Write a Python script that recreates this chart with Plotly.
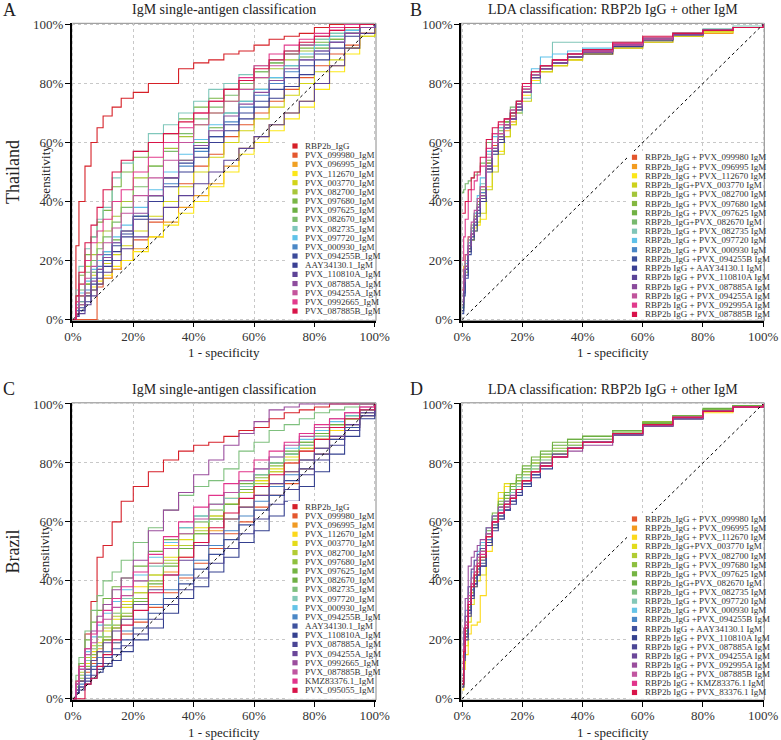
import plotly.graph_objects as go

FONT = "Liberation Serif"
W, H = 781, 740

# ---------------- shared FPR grids (percent) ----------------
GRID_SINGLE = [0, 1, 2, 4, 6, 8, 10, 13, 16, 20, 25, 30, 35, 40, 45, 50, 55, 60, 65, 70, 75, 80, 85, 90, 95, 100]
GRID_LDA = [0, 0.5, 1, 2, 3, 4, 5, 6, 8, 10, 12, 14, 16, 18, 20, 23, 26, 30, 35, 40, 50, 60, 70, 80, 90, 100]
TICKS = [0, 20, 40, 60, 80, 100]
TICK_TEXT = ["0%", "20%", "40%", "60%", "80%", "100%"]

# ---------------- Panel A: Thailand, IgM single antigen ----------------
A_NAMES = ["RBP2b_IgG", "PVX_099980_IgM", "PVX_096995_IgM", "PVX_112670_IgM", "PVX_003770_IgM",
           "PVX_082700_IgM", "PVX_097680_IgM", "PVX_097625_IgM", "PVX_082670_IgM", "PVX_082735_IgM",
           "PVX_097720_IgM", "PVX_000930_IgM", "PVX_094255B_IgM", "AAY34130.1_IgM", "PVX_110810A_IgM",
           "PVX_087885A_IgM", "PVX_094255A_IgM", "PVX_0992665_IgM", "PVX_087885B_IgM"]
A_COLORS = ["#d62027", "#e4572e", "#f0a023", "#fce719", "#d2d418", "#a8c63a", "#7ab646", "#6cb043",
            "#7dbd6d", "#80c7bb", "#5fc2e9", "#4a87c6", "#3b4a9a", "#3a3f93", "#5e4397", "#8e4d9e",
            "#c4549c", "#e23b8c", "#d81449"]
A_TPR = [
    [0, 25, 40, 52, 60, 65, 69, 72, 75, 77, 80, 80, 85, 87, 88, 90, 91, 93, 95, 96, 97, 99, 100, 100, 100, 100],
    [0, 0, 0, 0, 0, 11, 14, 17, 20, 27, 33, 40, 46, 52, 56, 62, 66, 70, 74, 78, 82, 86, 90, 93, 97, 100],
    [0, 2, 5, 8, 10, 12, 14, 17, 20, 24, 28, 33, 38, 42, 46, 52, 58, 62, 66, 70, 74, 80, 86, 92, 97, 100],
    [0, 3, 6, 9, 11, 13, 15, 18, 20, 23, 28, 32, 36, 40, 45, 50, 56, 60, 64, 68, 72, 78, 84, 90, 96, 100],
    [0, 4, 8, 12, 15, 17, 19, 22, 25, 30, 35, 40, 45, 50, 55, 60, 64, 68, 72, 76, 80, 84, 88, 92, 96, 100],
    [0, 6, 12, 18, 22, 26, 30, 35, 40, 48, 52, 58, 62, 66, 70, 74, 78, 82, 85, 88, 91, 93, 95, 97, 99, 100],
    [0, 8, 15, 22, 28, 33, 37, 45, 50, 55, 60, 63, 68, 72, 75, 78, 81, 84, 87, 90, 92, 94, 96, 98, 99, 100],
    [0, 4, 8, 12, 16, 20, 23, 27, 30, 35, 42, 48, 54, 60, 65, 70, 74, 78, 82, 86, 89, 92, 95, 97, 99, 100],
    [0, 5, 10, 16, 20, 24, 28, 33, 38, 45, 52, 57, 63, 68, 72, 76, 80, 84, 87, 90, 93, 95, 97, 98, 99, 100],
    [0, 10, 18, 24, 28, 34, 38, 48, 53, 57, 63, 66, 70, 74, 78, 80, 83, 86, 88, 91, 93, 95, 97, 98, 99, 100],
    [0, 5, 9, 13, 17, 20, 23, 28, 32, 38, 44, 50, 56, 61, 66, 70, 74, 78, 82, 86, 90, 93, 96, 98, 99, 100],
    [0, 3, 6, 10, 14, 18, 22, 26, 30, 35, 40, 46, 52, 57, 62, 67, 72, 76, 80, 84, 88, 91, 94, 97, 99, 100],
    [0, 2, 4, 8, 12, 16, 20, 25, 29, 35, 42, 48, 53, 58, 62, 66, 70, 74, 78, 82, 86, 90, 94, 97, 99, 100],
    [0, 1, 3, 6, 10, 14, 18, 23, 28, 34, 40, 45, 50, 55, 60, 64, 68, 72, 75, 79, 83, 88, 92, 96, 99, 100],
    [0, 1, 2, 5, 8, 12, 16, 20, 24, 28, 34, 38, 42, 46, 50, 54, 58, 62, 66, 70, 74, 80, 86, 92, 97, 100],
    [0, 2, 5, 9, 13, 17, 21, 26, 30, 36, 42, 48, 54, 59, 64, 69, 73, 77, 81, 85, 88, 91, 94, 97, 99, 100],
    [0, 4, 8, 14, 18, 22, 26, 31, 36, 42, 48, 54, 60, 66, 70, 74, 78, 82, 86, 90, 93, 96, 98, 99, 100, 100],
    [0, 6, 12, 20, 26, 30, 34, 40, 44, 50, 55, 60, 65, 70, 74, 78, 82, 86, 90, 93, 95, 97, 99, 100, 100, 100],
    [0, 8, 16, 26, 32, 38, 44, 50, 54, 57, 60, 63, 67, 70, 74, 78, 81, 85, 88, 91, 94, 96, 98, 99, 100, 100],
]

# ---------------- Panel B: Thailand, LDA ----------------
B_NAMES = ["RBP2b_IgG + PVX_099980 IgM", "RBP2b_IgG + PVX_096995 IgM", "RBP2b_IgG + PVX_112670 IgM",
           "RBP2b_IgG+PVX_003770 IgM", "RBP2b_IgG + PVX_082700 IgM", "RBP2b_IgG + PVX_097680 IgM",
           "RBP2b_IgG + PVX_097625 IgM", "RBP2b_IgG+PVX_082670 IgM", "RBP2b_IgG + PVX_082735 IgM",
           "RBP2b_IgG + PVX_097720 IgM", "RBP2b_IgG + PVX_000930 IgM", "RBP2b_IgG +PVX_094255B IgM",
           "RBP2b IgG + AAY34130.1 IgM", "RBP2b IgG + PVX_110810A IgM", "RBP2b IgG + PVX_087885A IgM",
           "RBP2b IgG + PVX_094255A IgM", "RBP2b IgG + PVX_092995A IgM", "RBP2b IgG + PVX_087885B IgM"]
B_COLORS = ["#e4572e", "#f39c1f", "#fce719", "#cdd11c", "#a3c53a", "#84b741", "#71b144", "#78b96e",
            "#80c5b8", "#5fc1e9", "#4a87c6", "#3b4f9c", "#3a3f93", "#5b4497", "#8a4b9c", "#c0549c",
            "#e13a8c", "#d8124a"]
B_TPR = [
    [8, 15, 20, 27, 31, 35, 40, 45, 53, 59, 63, 66, 69, 73, 78, 83, 85, 87, 89, 90, 93, 95, 96, 98, 99, 100],
    [10, 18, 22, 28, 32, 36, 39, 43, 51, 57, 61, 64, 67, 71, 77, 82, 84, 86, 88, 90, 92, 94, 96, 97, 99, 100],
    [5, 12, 18, 23, 27, 31, 32, 34, 45, 52, 57, 62, 66, 70, 76, 81, 84, 86, 88, 90, 92.5, 94.5, 96, 97.5, 99, 100],
    [6, 14, 19, 24, 27, 30, 33, 36, 44, 50, 56, 62, 66, 70, 74, 80, 84, 86, 88, 90, 92, 94, 96, 97.5, 99, 100],
    [4, 11, 17, 25, 30, 34, 38, 42, 52, 58, 62, 66, 69, 73, 78, 83, 86, 88, 90, 91, 93, 95, 97, 98, 99, 100],
    [3, 10, 16, 24, 29, 34, 38, 42, 53, 60, 63, 67, 70, 73, 79, 83, 86, 88, 89, 91, 93, 95, 97, 98, 99, 100],
    [4, 12, 18, 26, 31, 35, 39, 44, 54, 60, 64, 67, 71, 74, 79, 84, 86, 88, 90, 91, 93.5, 95, 97, 98, 99, 100],
    [43, 44, 46, 47, 48, 49, 50, 53, 60, 63, 65, 68, 72, 74, 79, 84, 86, 88, 90, 91, 93.5, 95.5, 97, 98, 99, 100],
    [8, 15, 20, 27, 32, 36, 41, 46, 56, 60, 62, 65, 68, 70, 75, 80, 86, 94, 94, 94, 94, 95.5, 97, 98.5, 99.5, 100],
    [6, 14, 19, 26, 31, 36, 42, 48, 57, 62, 65, 68, 71, 74, 79, 85, 89, 90, 91, 92, 93.5, 95, 97, 98, 99, 100],
    [4, 11, 17, 25, 30, 34, 38, 43, 52, 57, 61, 65, 68, 71, 77, 83, 86, 88, 90, 91, 93, 95, 96.5, 98, 99, 100],
    [2, 8, 14, 22, 27, 30, 35, 41, 51, 57, 61, 66, 70, 73, 78, 83, 85, 87, 89, 91, 93, 95, 96.5, 98, 99, 100],
    [3, 9, 15, 23, 28, 32, 36, 40, 50, 56, 60, 65, 68, 72, 77, 82, 85, 87, 89, 90, 92.5, 94.5, 96.5, 98, 99, 100],
    [5, 12, 17, 24, 29, 33, 37, 41, 51, 57, 61, 65, 68, 71, 77, 82, 85, 87, 89, 91, 93, 95, 96.5, 98, 99, 100],
    [6, 13, 18, 25, 29, 34, 38, 42, 52, 58, 62, 65, 68, 72, 77, 83, 85, 87, 89, 90.5, 93, 95, 96.5, 98, 99, 100],
    [10, 17, 22, 28, 33, 37, 41, 45, 55, 60, 63, 66, 69, 73, 78, 83, 86, 88, 90, 91, 93, 95, 97, 98, 99, 100],
    [20, 28, 34, 40, 44, 47, 49, 52, 58, 63, 66, 68, 71, 74, 79, 84, 86, 88, 90, 91, 93.5, 95.5, 97, 98, 99, 100],
    [36, 36, 40, 44, 48, 50, 50, 55, 61, 65, 67, 68, 70, 74, 80, 84, 86, 88, 90, 91.5, 94, 96, 97, 98, 99, 100],
]

# ---------------- Panel C: Brazil, IgM single antigen ----------------
C_NAMES = ["RBP2b_IgG", "PVX_099980_IgM", "PVX_096995_IgM", "PVX_112670_IgM", "PVX_003770_IgM",
           "PVX_082700_IgM", "PVX_097680_IgM", "PVX_097625_IgM", "PVX_082670_IgM", "PVX_082735_IgM",
           "PVX_097720_IgM", "PVX_000930_IgM", "PVX_094255B_IgM", "AAY34130.1_IgM", "PVX_110810A_IgM",
           "PVX_087885A_IgM", "PVX_094255A_IgM", "PVX_0992665_IgM", "PVX_087885B_IgM", "KMZ83376.1_IgM",
           "PVX_095055_IgM"]
C_COLORS = ["#d6202a", "#e4572e", "#f09a23", "#fcd81b", "#e4db1a", "#b3cc33", "#8ec03e", "#74b443",
            "#6fb044", "#7fc07e", "#83c9b6", "#64c3e8", "#4a87c6", "#3e529e", "#34408f", "#4a4595",
            "#6a4699", "#9a4d9d", "#bf55a0", "#e1348b", "#d81449"]
C_TPR = [
    [0, 5, 12, 22, 33, 48, 52, 60, 67, 72, 77, 81, 84, 86, 87, 89, 91, 92, 95, 97, 98, 99, 100, 100, 100, 100],
    [0, 3, 6, 9, 12, 14, 16, 19, 22, 26, 31, 36, 41, 46, 51, 56, 60, 65, 69, 73, 78, 83, 88, 92, 96, 100],
    [0, 3, 6, 10, 14, 17, 20, 24, 28, 33, 38, 43, 48, 53, 57, 61, 65, 69, 73, 77, 81, 85, 89, 93, 97, 100],
    [0, 4, 8, 13, 17, 21, 25, 29, 33, 38, 46, 52, 56, 60, 64, 68, 71, 74, 77, 80, 84, 88, 91, 95, 98, 100],
    [0, 4, 8, 12, 16, 19, 23, 27, 31, 36, 42, 48, 54, 58, 62, 66, 70, 74, 78, 82, 85, 89, 92, 95, 98, 100],
    [0, 5, 9, 14, 18, 21, 24, 28, 32, 36, 42, 47, 52, 57, 62, 66, 70, 73, 77, 81, 85, 88, 92, 95, 98, 100],
    [0, 4, 7, 11, 15, 18, 21, 25, 29, 34, 40, 46, 51, 56, 61, 66, 71, 75, 79, 83, 87, 90, 93, 96, 98, 100],
    [0, 6, 12, 20, 26, 30, 34, 38, 41, 45, 50, 54, 58, 62, 66, 70, 73, 76, 80, 83, 86, 89, 92, 95, 98, 100],
    [0, 3, 6, 10, 13, 16, 20, 24, 28, 33, 39, 45, 51, 56, 61, 66, 71, 76, 80, 84, 87, 90, 93, 96, 98, 100],
    [0, 8, 14, 23, 30, 35, 40, 43, 47, 53, 58, 64, 69, 72, 74, 78, 84, 87, 91, 93, 95, 97, 98, 99, 100, 100],
    [0, 4, 8, 13, 17, 21, 25, 29, 34, 40, 45, 51, 56, 60, 64, 68, 72, 76, 80, 83, 86, 89, 92, 95, 98, 100],
    [0, 5, 10, 16, 21, 25, 29, 33, 37, 42, 48, 53, 58, 62, 66, 70, 74, 78, 82, 85, 88, 91, 94, 96, 98, 100],
    [0, 3, 5, 8, 11, 14, 16, 19, 23, 27, 32, 37, 42, 47, 52, 57, 62, 67, 72, 76, 81, 85, 89, 93, 97, 100],
    [0, 2, 4, 7, 10, 12, 14, 17, 20, 24, 29, 34, 39, 44, 49, 54, 59, 64, 69, 74, 78, 83, 88, 92, 96, 100],
    [0, 2, 3, 5, 7, 9, 11, 13, 16, 20, 24, 29, 34, 38, 43, 48, 53, 57, 62, 67, 72, 77, 83, 89, 95, 100],
    [0, 2, 4, 6, 8, 10, 12, 15, 18, 22, 27, 32, 37, 41, 46, 51, 56, 61, 66, 71, 76, 81, 86, 91, 96, 100],
    [0, 3, 6, 10, 13, 16, 19, 23, 27, 32, 37, 42, 47, 52, 56, 61, 65, 69, 73, 77, 81, 85, 89, 93, 97, 100],
    [0, 5, 10, 17, 23, 28, 32, 37, 41, 47, 57, 64, 70, 76, 81, 86, 90, 94, 98, 99, 100, 100, 100, 100, 100, 100],
    [0, 5, 10, 15, 19, 23, 27, 31, 35, 40, 46, 51, 56, 61, 66, 70, 74, 78, 82, 86, 89, 92, 95, 97, 99, 100],
    [0, 6, 11, 17, 22, 26, 30, 34, 38, 43, 49, 55, 60, 65, 69, 73, 77, 81, 84, 87, 90, 93, 95, 97, 99, 100],
    [0, 0, 0, 5, 7, 11, 15, 20, 25, 30, 36, 42, 48, 53, 58, 63, 68, 72, 76, 80, 84, 88, 92, 95, 98, 100],
]

# ---------------- Panel D: Brazil, LDA ----------------
D_NAMES = ["RBP2b_IgG + PVX_099980 IgM", "RBP2b_IgG + PVX_096995 IgM", "RBP2b_IgG + PVX_112670 IgM",
           "RBP2b_IgG+PVX_003770 IgM", "RBP2b_IgG + PVX_082700 IgM", "RBP2b_IgG + PVX_097680 IgM",
           "RBP2b_IgG + PVX_097625 IgM", "RBP2b_IgG+PVX_082670 IgM", "RBP2b_IgG + PVX_082735 IgM",
           "RBP2b_IgG + PVX_097720 IgM", "RBP2b_IgG + PVX_000930 IgM", "RBP2b_IgG +PVX_094255B IgM",
           "RBP2b IgG + AAY34130.1 IgM", "RBP2b IgG + PVX_110810A IgM", "RBP2b IgG + PVX_087885A IgM",
           "RBP2b IgG + PVX_094255A IgM", "RBP2b IgG + PVX_092995A IgM", "RBP2b IgG + PVX_087885B IgM",
           "RBP2b IgG + KMZ83376.1 IgM", "RBP2b IgG + PVX_83376.1 IgM"]
D_COLORS = ["#e4572e", "#f39a1e", "#fcd91b", "#e2dc1b", "#b1cc34", "#8dbf3f", "#75b443", "#6cae43",
            "#7fbf7e", "#84c8b8", "#66c4e8", "#4a87c6", "#3f519e", "#35418f", "#4b4696", "#6b479a",
            "#9a4d9d", "#c155a0", "#e1348b", "#d81449"]
D_TPR = [
    [4, 14, 21, 30, 36, 40, 43, 47, 55, 60, 63, 66, 68, 71, 74, 77, 79, 82, 85, 87, 90, 93.5, 95.5, 97.5, 99, 100],
    [6, 16, 23, 31, 37, 41, 44, 47, 54, 59, 62, 65, 68, 71, 74, 77, 80, 83, 85, 87, 90, 93, 95.5, 97.5, 99, 100],
    [3, 10, 15, 22, 25, 25, 26, 35, 50, 58, 68, 72, 73, 73, 74, 77, 80, 83, 85, 87, 89.5, 92.5, 95, 97, 99, 100],
    [4, 12, 18, 26, 32, 38, 40, 42, 52, 60, 70, 73, 73, 74, 76, 78, 80, 83, 85, 87, 90, 93, 95, 97.5, 99, 100],
    [5, 14, 22, 30, 36, 40, 44, 48, 56, 62, 66, 70, 72, 74, 77, 80, 82, 84, 86, 88, 90.5, 93.5, 95.5, 97.5, 99.5, 100],
    [6, 15, 23, 31, 37, 41, 45, 48, 56, 61, 65, 68, 71, 74, 77, 80, 82, 85, 87, 89, 91, 94, 96, 98, 99.5, 100],
    [5, 16, 24, 32, 38, 42, 46, 50, 58, 63, 67, 70, 73, 76, 79, 82, 84, 87, 88, 89, 91, 93.5, 96, 98, 99.5, 100],
    [7, 18, 26, 34, 39, 43, 47, 50, 57, 62, 66, 69, 72, 75, 78, 81, 83, 86, 88, 89, 91, 93.5, 96, 98.5, 99.5, 100],
    [5, 15, 23, 31, 37, 41, 45, 48, 56, 61, 64, 67, 70, 73, 76, 79, 81, 84, 86, 88, 90.5, 93, 95.5, 97.5, 99, 100],
    [8, 20, 28, 36, 41, 45, 48, 52, 58, 62, 65, 67, 70, 72, 75, 78, 80, 83, 85, 87, 90, 93, 95, 97.5, 99, 100],
    [10, 22, 30, 38, 43, 47, 50, 53, 58, 62, 64, 66, 68, 71, 73, 76, 79, 82, 85, 87, 90, 93, 95.5, 97.5, 99, 100],
    [6, 17, 24, 32, 37, 41, 44, 47, 54, 59, 62, 65, 67, 70, 73, 76, 79, 82, 85, 87, 90, 93, 95, 97.5, 99, 100],
    [4, 14, 21, 29, 35, 39, 42, 46, 53, 58, 62, 64, 67, 70, 73, 76, 79, 82, 85, 87, 89.5, 92.5, 95, 97.5, 99, 100],
    [5, 15, 22, 30, 35, 39, 42, 45, 53, 58, 61, 64, 66, 69, 72, 75, 78, 82, 85, 87, 89.5, 92.5, 95, 97.5, 99, 100],
    [4, 13, 20, 28, 34, 38, 42, 45, 52, 57, 61, 64, 67, 70, 73, 76, 79, 82, 85, 87, 89.5, 93, 95, 97.5, 99, 100],
    [8, 20, 28, 38, 44, 47, 49, 51, 56, 60, 63, 66, 68, 71, 74, 77, 80, 83, 85, 87, 90, 93, 95.5, 97.5, 99, 100],
    [12, 24, 34, 45, 48, 50, 52, 54, 58, 62, 65, 67, 69, 71, 74, 77, 80, 82, 84, 86, 89.5, 92.5, 95, 97.5, 99, 100],
    [7, 18, 26, 35, 41, 45, 48, 50, 56, 60, 63, 65, 68, 71, 74, 77, 79, 82, 85, 87, 90, 93, 95.5, 97.5, 99, 100],
    [6, 17, 25, 33, 39, 43, 46, 49, 55, 60, 63, 66, 68, 71, 74, 77, 79, 82, 85, 87, 90, 93, 95.5, 97.5, 99, 100],
    [5, 16, 24, 32, 38, 42, 45, 48, 55, 60, 63, 66, 68, 71, 74, 77, 79, 82, 85, 87, 90, 93, 95.5, 97.5, 99, 100],
]

CHANCE = [0, 100]


def px(x):
    return x / W


def py(y):
    return 1 - y / H


# plot boxes in pixels
BOX_L = (71.7, 376.0)
BOX_R = (461.0, 764.3)
BOX_T = (23.3, 320.7)
BOX_B = (402.8, 700.0)

panels = [
    dict(letter="A", title="IgM single-antigen classification", names=A_NAMES, colors=A_COLORS, tpr=A_TPR,
         grid=GRID_SINGLE, ax="", xb=BOX_L, yb=BOX_T,
         leg=dict(sw=295.0, tx=303.0, y0=146.0, dy=9.17, box=(287, 140, 375, 319.5))),
    dict(letter="B", title="LDA classification: RBP2b IgG + other IgM", names=B_NAMES, colors=B_COLORS, tpr=B_TPR,
         grid=GRID_LDA, ax="2", xb=BOX_R, yb=BOX_T,
         leg=dict(sw=634.5, tx=643.0, y0=157.3, dy=9.24, box=(627, 151, 763, 319.5))),
    dict(letter="C", title="IgM single-antigen classification", names=C_NAMES, colors=C_COLORS, tpr=C_TPR,
         grid=GRID_SINGLE, ax="3", xb=BOX_L, yb=BOX_B,
         leg=dict(sw=295.0, tx=303.0, y0=506.7, dy=9.18, box=(288, 501, 375, 698.8))),
    dict(letter="D", title="LDA classification: RBP2b IgG + other IgM", names=D_NAMES, colors=D_COLORS, tpr=D_TPR,
         grid=GRID_LDA, ax="4", xb=BOX_R, yb=BOX_B,
         leg=dict(sw=634.5, tx=643.0, y0=519.0, dy=9.13, box=(627, 513, 763, 698.8))),
]

fig = go.Figure()
shapes = []
annotations = []
layout_axes = {}

for p in panels:
    xa = "x" + p["ax"]
    ya = "y" + p["ax"]
    for name, color, tpr in zip(p["names"], p["colors"], p["tpr"]):
        fig.add_trace(go.Scatter(x=p["grid"], y=tpr, mode="lines", name=name,
                                 line=dict(color=color, width=1.1, shape="hv"),
                                 xaxis=xa, yaxis=ya, showlegend=False, hoverinfo="name"))
    fig.add_trace(go.Scatter(x=CHANCE, y=CHANCE, mode="lines",
                             line=dict(color="black", width=1, dash="dot"),
                             xaxis=xa, yaxis=ya, showlegend=False, hoverinfo="skip"))

    common = dict(range=[-0.4, 100.4], tickmode="array", tickvals=TICKS, ticktext=TICK_TEXT,
                  showgrid=True, gridcolor="#c8c8c8", griddash="3px,3px", gridwidth=1,
                  zeroline=False, showline=True, linecolor="black", linewidth=1.5,
                  ticks="outside", ticklen=5, tickwidth=1, tickcolor="black",
                  tickfont=dict(family=FONT, size=13, color="#333333"), fixedrange=True,
                  automargin=False)
    layout_axes["xaxis" + p["ax"]] = dict(common, domain=[px(p["xb"][0]), px(p["xb"][1])], anchor=ya,
                                         ticklabelstandoff=-2)
    layout_axes["yaxis" + p["ax"]] = dict(common, domain=[py(p["yb"][1]), py(p["yb"][0])], anchor=xa,
                                         ticklabelstandoff=-1)

    # gray frame on top / right
    shapes.append(dict(type="rect", xref="paper", yref="paper",
                       x0=px(p["xb"][0]), x1=px(p["xb"][1]), y0=py(p["yb"][1]), y1=py(p["yb"][0]),
                       line=dict(color="#8a8a8a", width=1), layer="between"))

    cx = (p["xb"][0] + p["xb"][1]) / 2
    annotations.append(dict(text=p["title"], x=px(cx), y=py(p["yb"][0] - 13.5), xref="paper", yref="paper",
                            showarrow=False, xanchor="center", yanchor="middle",
                            font=dict(family=FONT, size=14, color="#222222")))
    lx = 9 if p["letter"] in ("A", "C") else 416
    annotations.append(dict(text=p["letter"], x=px(lx), y=py(p["yb"][0] - 13.5), xref="paper", yref="paper",
                            showarrow=False, xanchor="center", yanchor="middle",
                            font=dict(family=FONT, size=18, color="#222222")))
    annotations.append(dict(text="1 - specificity", x=px(cx), y=py(p["yb"][1] + 32), xref="paper", yref="paper",
                            showarrow=False, xanchor="center", yanchor="middle",
                            font=dict(family=FONT, size=13, color="#222222")))
    cy = (p["yb"][0] + p["yb"][1]) / 2
    annotations.append(dict(text="sensitivity", x=px(p["xb"][0] - 27), y=py(cy), xref="paper", yref="paper",
                            showarrow=False, xanchor="center", yanchor="middle", textangle=-90,
                            font=dict(family=FONT, size=13, color="#222222")))

    # manual legend (compact rows)
    lg = p["leg"]
    bx = lg["box"]
    shapes.append(dict(type="rect", xref="paper", yref="paper", x0=px(bx[0]), x1=px(bx[2]),
                       y0=py(bx[3]), y1=py(bx[1]), fillcolor="white", line=dict(width=0), layer="above"))
    for i, (name, color) in enumerate(zip(p["names"], p["colors"])):
        yy = lg["y0"] + i * lg["dy"]
        shapes.append(dict(type="rect", xref="paper", yref="paper",
                           x0=px(lg["sw"] - 2.6), x1=px(lg["sw"] + 2.6), y0=py(yy + 2.6), y1=py(yy - 2.6),
                           fillcolor=color, line=dict(width=0), layer="above"))
        annotations.append(dict(text=name, x=px(lg["tx"]), y=py(yy), xref="paper", yref="paper",
                                showarrow=False, xanchor="left", yanchor="middle",
                                font=dict(family=FONT, size=9, color="#333333")))

for label, cy in (("Thailand", (BOX_T[0] + BOX_T[1]) / 2), ("Brazil", (BOX_B[0] + BOX_B[1]) / 2)):
    annotations.append(dict(text=label, x=px(13), y=py(cy), xref="paper", yref="paper",
                            showarrow=False, xanchor="center", yanchor="middle", textangle=-90,
                            font=dict(family=FONT, size=18, color="#222222")))

fig.update_layout(width=W, height=H, margin=dict(l=0, r=0, t=0, b=0, autoexpand=False),
                  paper_bgcolor="white", plot_bgcolor="white", showlegend=False,
                  font=dict(family=FONT), shapes=shapes, annotations=annotations, **layout_axes)

fig.write_html("out.html", config={"displayModeBar": False},
               post_script="document.body.style.margin='0';")
